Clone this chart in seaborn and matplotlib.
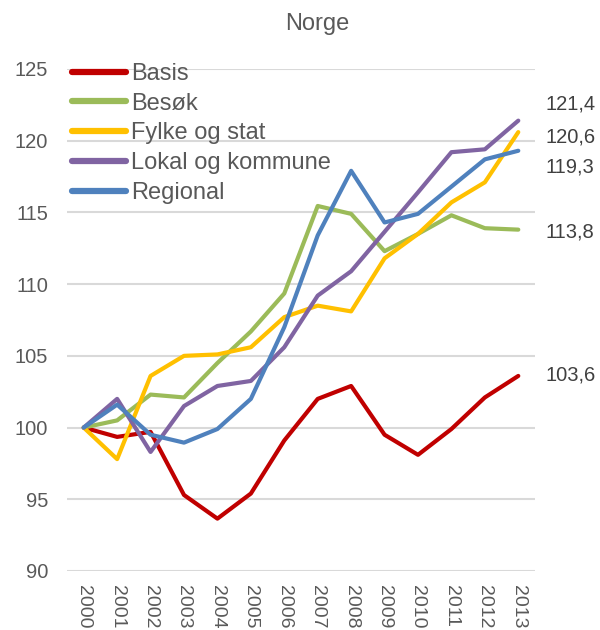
import pandas as pd
import matplotlib.pyplot as plt
import seaborn as sns

years = list(range(2000, 2014))
basis = [100, 99.35, 99.7, 95.3, 93.65, 95.4, 99.1, 102.0, 102.9, 99.5, 98.1, 99.9, 102.1, 103.6]
besok = [100, 100.5, 102.3, 102.1, 104.5, 106.7, 109.35, 115.45, 114.9, 112.3, 113.5, 114.8, 113.9, 113.8]
fylke = [100, 97.8, 103.6, 105.0, 105.1, 105.6, 107.7, 108.5, 108.1, 111.8, 113.5, 115.7, 117.1, 120.6]
lokal = [100, 102.0, 98.3, 101.5, 102.9, 103.25, 105.6, 109.2, 110.9, 113.65, 116.4, 119.2, 119.4, 121.4]
regional = [100, 101.6, 99.5, 98.95, 99.9, 102.0, 107.0, 113.4, 117.9, 114.3, 114.9, 116.8, 118.7, 119.3]

series = ['Basis', 'Besøk', 'Fylke og stat', 'Lokal og kommune', 'Regional']
colors = ['#C00000', '#9BBB59', '#FFC000', '#8064A2', '#4F81BD']

sns.set_style('white')
plt.rcParams['font.family'] = ['Liberation Sans', 'DejaVu Sans']

rows = []
for name, vals in zip(series, [basis, besok, fylke, lokal, regional]):
    for i, v in enumerate(vals):
        rows.append({'idx': i, 'value': v, 'serie': name})
df = pd.DataFrame(rows)

fig = plt.figure(figsize=(6, 6.3), dpi=100)
ax = fig.add_axes([67 / 600, 1 - 571 / 630, 468 / 600, 502 / 630])

sns.lineplot(data=df, x='idx', y='value', hue='serie', hue_order=series,
             palette=colors, linewidth=3, ax=ax, legend=True)

ax.set_xlim(-0.5, 13.5)
ax.set_ylim(90, 125)
ax.set_yticks(range(90, 126, 5))
ax.set_xticks(range(len(years)))
ax.set_xticklabels([str(y) for y in years], rotation=270)
ax.tick_params(axis='x', length=0, pad=10, labelsize=14, labelcolor='#595959')
ax.tick_params(axis='y', length=0, pad=13.5, labelsize=14.5, labelcolor='#595959')
for t in ax.get_xticklabels():
    t.set_va('top')
ax.grid(axis='y', color='#D9D9D9', linewidth=1.5)
ax.set_axisbelow(True)
for s in ax.spines.values():
    s.set_visible(False)
ax.set_xlabel('')
ax.set_ylabel('')

# end labels, nudged vertically like in the original
label_y = [103.65, 113.63, 120.26, 122.56, 118.17]
for vals, ly in zip([basis, besok, fylke, lokal, regional], label_y):
    ax.text(13.8, ly, f'{vals[-1]:.1f}'.replace('.', ','), va='center', ha='left',
            fontsize=14.5, color='#404040', clip_on=False)

leg = ax.legend(loc='upper left', bbox_to_anchor=(-0.0094, 1.031), frameon=False,
                fontsize=17, handlelength=2.3, handletextpad=0.2, labelspacing=0.33,
                borderaxespad=0)
for t in leg.get_texts():
    t.set_color('#595959')
for h in leg.get_lines():
    h.set_linewidth(4.5)
    h.set_solid_capstyle('round')

fig.text(317.5 / 600, 1 - 24 / 630, 'Norge', ha='center', va='center', fontsize=17, color='#595959')

plt.savefig('out.png', dpi=100)
